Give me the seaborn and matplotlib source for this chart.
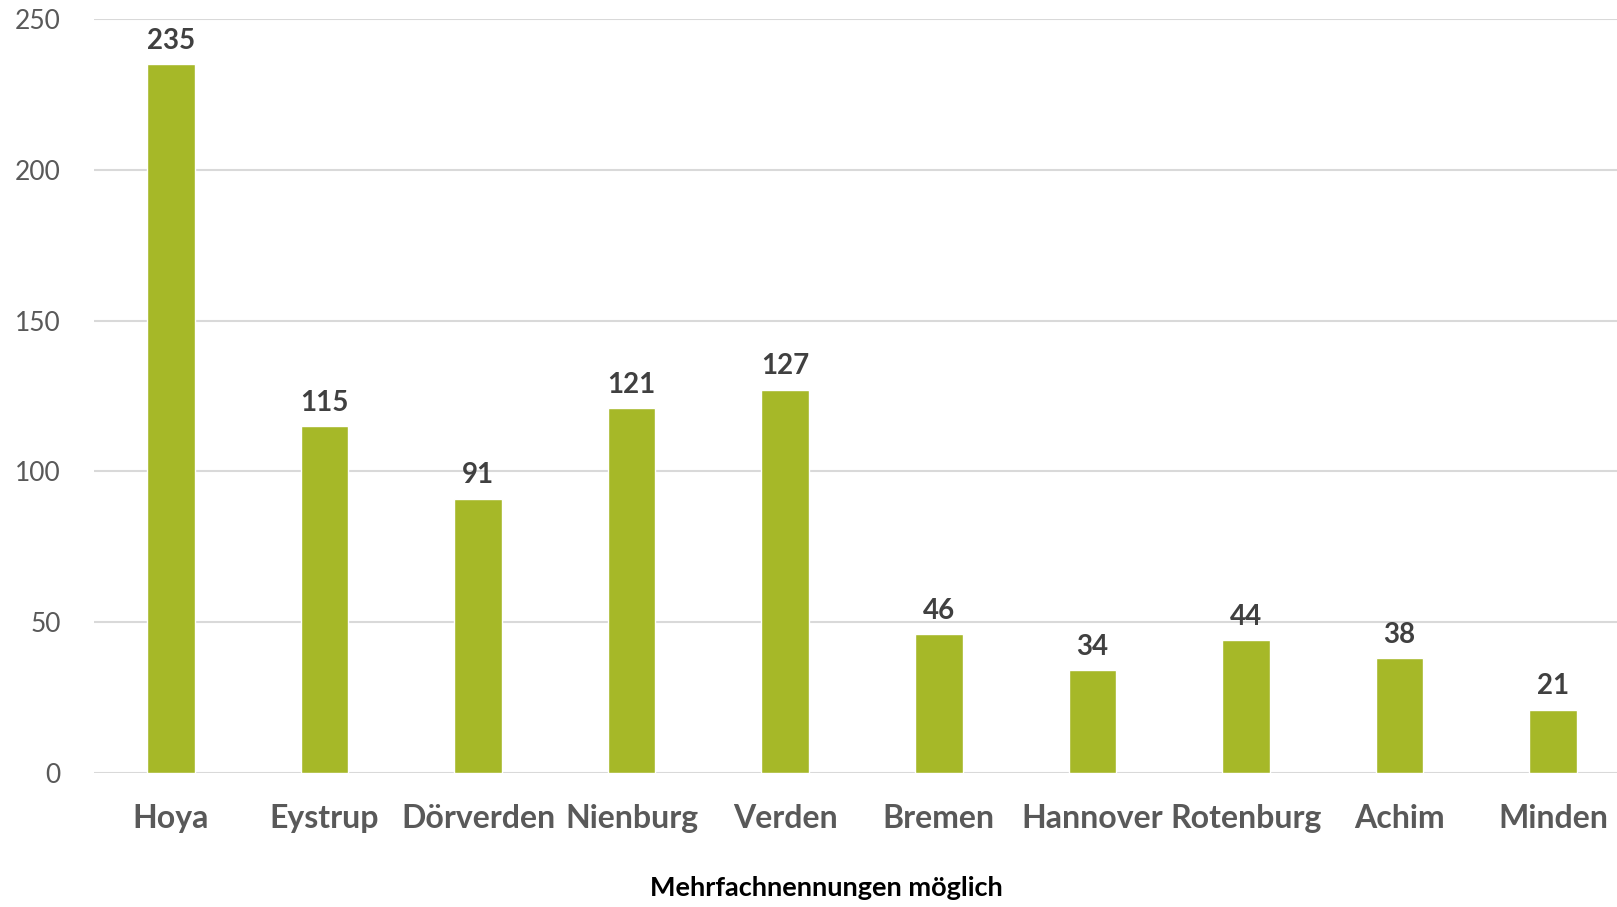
import matplotlib
matplotlib.use("Agg")
import matplotlib.pyplot as plt
import seaborn as sns
import pandas as pd

# --- Data ---
orte = ["Hoya", "Eystrup", "Dörverden", "Nienburg", "Verden",
        "Bremen", "Hannover", "Rotenburg", "Achim", "Minden"]
nennungen = [235, 115, 91, 121, 127, 46, 34, 44, 38, 21]
y_ticks = [0, 50, 100, 150, 200, 250]

df = pd.DataFrame({"Ort": orte, "Anzahl": nennungen})

sns.set_theme(style="white")
plt.rcParams["font.family"] = ["Lato", "DejaVu Sans"]

fig = plt.figure(figsize=(16.17, 9.07), dpi=100)
ax = fig.add_axes([0.0581, 0.1477, 0.9419, 0.8313])

sns.barplot(data=df, x="Ort", y="Anzahl", color="#a6b828", saturation=1,
            width=0.31, ax=ax, zorder=3)

# value labels
for i, v in enumerate(nennungen):
    ax.text(i, v + 3.5, str(v), ha="center", va="bottom",
            fontsize=20, fontweight="bold", color="#404040")

ax.set_ylim(0, 250)
ax.set_xlim(-0.5, 9.415)
ax.set_yticks(y_ticks)
ax.yaxis.grid(True, color="#d9d9d9", linewidth=1.5, zorder=0)
ax.set_axisbelow(True)
for s in ax.spines.values():
    s.set_visible(False)
ax.tick_params(axis="y", length=0, pad=24, labelsize=19, labelcolor="#595959")
ax.tick_params(axis="x", length=0, pad=22, labelsize=23, labelcolor="#595959")
for lbl in ax.get_xticklabels():
    lbl.set_fontweight("bold")
ax.set_ylabel("")
ax.set_xlabel("Mehrfachnennungen möglich", fontsize=19.5, fontweight="bold",
              color="black", va="center")
ax.xaxis.set_label_coords((802 * 1.031 - 94) / (1617 - 94), -0.1525)

fig.savefig("out.png", dpi=100)
